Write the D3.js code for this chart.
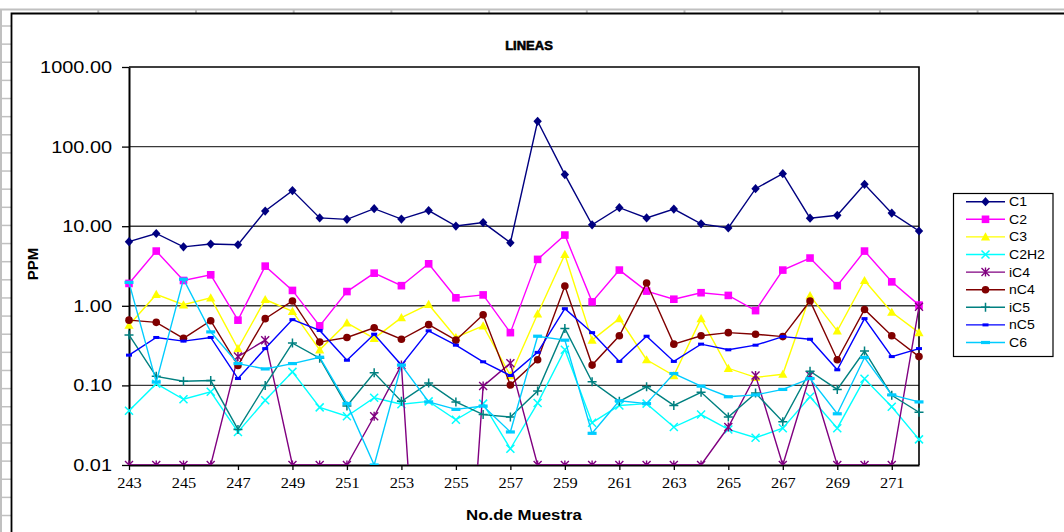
<!DOCTYPE html>
<html>
<head>
<meta charset="utf-8">
<script src="https://cdn.jsdelivr.net/npm/d3@7"></script>
<style>
  html, body { margin: 0; padding: 0; background: #fff; }
  svg { display: block; }
</style>
</head>
<body>
<svg id="chart" width="1064" height="532"></svg>
<script>
// ---------------- DATA ----------------
const categories = [243,244,245,246,247,248,249,250,251,252,253,254,255,256,257,258,259,260,261,262,263,264,265,266,267,268,269,270,271,272];
const xTickLabels = [243,245,247,249,251,253,255,257,259,261,263,265,267,269,271];
const yTickValues = [0.01, 0.1, 1, 10, 100, 1000];
const seriesNames = ["C1","C2","C3","C2H2","iC4","nC4","iC5","nC5","C6"];

const C1   = [6.4,8.1,5.5,5.97,5.85,15.5,28,12.7,12.2,16.6, 12.3,15.7,10.05,11.1,6.2,208,44.5,10.4,17.1,12.7, 16.4,10.7,9.5,29.6,45.7,12.6,13.7,33.6,14.6,8.7];
const C2   = [1.91,4.87,2.08,2.45,0.66,3.15,1.56,0.56,1.51,2.57, 1.79,3.37,1.26,1.37,0.46,3.83,7.74,1.12,2.81,1.53, 1.21,1.46,1.35,0.87,2.81,3.98,1.79,4.87,2.0,1.02];
const C3   = [0.57,1.39,1.03,1.26,0.29,1.2,0.85,0.28,0.61,0.39, 0.71,1.04,0.40,0.56,0.133,0.79,4.42,0.37,0.69,0.21, 0.133,0.69,0.164,0.126,0.138,1.34,0.485,2.08,0.83,0.46];
const C2H2 = [0.048,0.105,0.067,0.083,0.026,0.065,0.148,0.053,0.041,0.070, 0.058,0.063,0.037,0.059,0.016,0.060,0.28,0.034,0.056,0.059, 0.030,0.043,0.028,0.022,0.029,0.072,0.029,0.121,0.054,0.021];
const iC4  = [0.01,0.01,0.01,0.01,0.23,0.37,0.01,0.01,0.01,0.041, 0.18,0,0,0.098,0.19,0.01,0.01,0.01,0.01,0.01, 0.01,0.01,0.030,0.133,0.01,0.134,0.01,0.01,0.01,0.97];
const nC4  = [0.66,0.62,0.39,0.65,0.178,0.69,1.15,0.35,0.40,0.53, 0.38,0.58,0.37,0.77,0.101,0.21,1.77,0.18,0.42,1.93, 0.33,0.42,0.46,0.44,0.41,1.15,0.21,0.90,0.42,0.23];
const iC5  = [0.43,0.13,0.113,0.115,0.028,0.10,0.34,0.22,0.055,0.144, 0.063,0.107,0.062,0.043,0.040,0.085,0.52,0.111,0.063,0.096, 0.056,0.082,0.040,0.080,0.035,0.151,0.089,0.27,0.075,0.046];
const nC5  = [0.24,0.40,0.36,0.40,0.122,0.29,0.67,0.49,0.207,0.44, 0.18,0.485,0.32,0.198,0.133,0.26,0.92,0.46,0.20,0.415, 0.20,0.33,0.28,0.32,0.41,0.38,0.157,0.69,0.23,0.29];
const C6   = [1.97,0.11,2.16,0.47,0.188,0.161,0.188,0.226,0.059,0.01, 0.18,0.062,0.050,0.055,0.026,0.415,0.37,0.025,0.064,0.059, 0.141,0.098,0.072,0.076,0.089,0.122,0.044,0.224,0.076,0.062];

const seriesValues = [C1, C2, C3, C2H2, iC4, nC4, iC5, nC5, C6];

// ---------------- STYLE ----------------
const colors  = ["#000080","#FF00FF","#FFFF00","#00FFFF","#800080","#800000","#008080","#0000FF","#00CCFF"];
const markers = ["diamond","square","triangle","x","asterisk","circle","plus","dashS","dashL"];
const STRETCH = 1.17;

const svg = d3.select("#chart");

// ---------------- spreadsheet background ----------------
const bg = svg.append("g");
bg.append("line").attr("x1",0).attr("x2",1064).attr("y1",9.5).attr("y2",9.5).attr("stroke","#c0c0c0").attr("stroke-width",2);
bg.append("line").attr("x1",1).attr("x2",1).attr("y1",9).attr("y2",532).attr("stroke","#c0c0c0").attr("stroke-width",2);
d3.range(26, 532, 18.13).forEach(yy => {
  bg.append("line").attr("x1",1).attr("x2",11).attr("y1",yy).attr("y2",yy).attr("stroke","#c0c0c0").attr("stroke-width",1.5);
});
d3.range(98.3, 1064, 97.7).forEach(xx => {
  bg.append("line").attr("x1",xx).attr("x2",xx).attr("y1",9).attr("y2",13).attr("stroke","#c0c0c0").attr("stroke-width",2);
});
// chart area border
bg.append("path").attr("d","M11.5,532 L11.5,13.5 L1064,13.5").attr("fill","none").attr("stroke","#000").attr("stroke-width",1.8);

// ---------------- scales ----------------
const plot = {left:129, right:919, top:67, bottom:465};
const x = d3.scalePoint().domain(categories).range([plot.left, plot.right]);
const y = d3.scaleLog().domain([0.01, 1000]).range([plot.bottom, plot.top]);
const yv = v => y(Math.max(v, 1e-6));

function stretch(sel, k) {
  sel.each(function() {
    const len = this.getComputedTextLength();
    d3.select(this).attr("textLength", len * k).attr("lengthAdjust", "spacingAndGlyphs");
  });
}

// gridlines
svg.append("g").selectAll("line").data(yTickValues.slice(1, -1)).join("line")
  .attr("x1", plot.left).attr("x2", plot.right)
  .attr("y1", d => y(d)).attr("y2", d => y(d))
  .attr("stroke", "#3a3a3a").attr("stroke-width", 1.4);

// plot frame (top/right)
svg.append("path")
  .attr("d", `M${plot.left},${plot.top} L${plot.right},${plot.top} L${plot.right},${plot.bottom}`)
  .attr("fill","none").attr("stroke","#000").attr("stroke-width",1.6);

// y axis
const yAxis = svg.append("g").attr("transform", `translate(${plot.left},0)`)
  .call(d3.axisLeft(y).tickValues(yTickValues).tickFormat(d3.format(".2f")).tickSize(7).tickSizeOuter(0).tickPadding(10));
yAxis.select(".domain").attr("stroke","#000").attr("stroke-width",2);
yAxis.selectAll(".tick line").attr("stroke","#000").attr("stroke-width",1.3);
yAxis.selectAll("text").attr("font-family","Liberation Sans, Arial, sans-serif").attr("font-size",17).attr("fill","#000");
stretch(yAxis.selectAll("text"), STRETCH);

// x axis
const xAxis = svg.append("g").attr("transform", `translate(0,${plot.bottom})`)
  .call(d3.axisBottom(x).tickValues(xTickLabels).tickSize(5).tickSizeOuter(0).tickPadding(8));
xAxis.select(".domain").attr("stroke","#000").attr("stroke-width",2);
xAxis.selectAll(".tick line").attr("stroke","#000").attr("stroke-width",1.3);
xAxis.selectAll("text").attr("font-family","Liberation Serif, Times New Roman, serif").attr("font-size",14).attr("fill","#000");
stretch(xAxis.selectAll("text"), STRETCH);

// clip
svg.append("defs").append("clipPath").attr("id","plotclip").append("rect")
  .attr("x", plot.left - 6).attr("y", plot.top - 6)
  .attr("width", plot.right - plot.left + 12).attr("height", plot.bottom - plot.top + 6);

// marker drawing
function drawMarker(g, type, color) {
  switch (type) {
    case "diamond":
      g.append("path").attr("d","M0,-4.6 L4.2,0 L0,4.6 L-4.2,0Z").attr("fill",color); break;
    case "square":
      g.append("rect").attr("x",-3.8).attr("y",-3.8).attr("width",7.6).attr("height",7.6).attr("fill",color); break;
    case "triangle":
      g.append("path").attr("d","M0,-4.6 L4.6,3.6 L-4.6,3.6Z").attr("fill",color); break;
    case "circle":
      g.append("circle").attr("r",3.8).attr("fill",color); break;
    case "x":
      g.append("path").attr("d","M-4,-4 L4,4 M-4,4 L4,-4").attr("stroke",color).attr("stroke-width",1.5).attr("fill","none"); break;
    case "asterisk":
      g.append("path").attr("d","M-4,-4 L4,4 M-4,4 L4,-4 M0,-4.5 L0,4.5").attr("stroke",color).attr("stroke-width",1.4).attr("fill","none"); break;
    case "plus":
      g.append("path").attr("d","M-4.5,0 L4.5,0 M0,-4.5 L0,4.5").attr("stroke",color).attr("stroke-width",1.5).attr("fill","none"); break;
    case "dashS":
      g.append("rect").attr("x",-3).attr("y",-1.5).attr("width",6).attr("height",3).attr("fill",color); break;
    case "dashL":
      g.append("rect").attr("x",-4.5).attr("y",-1.6).attr("width",9).attr("height",3.2).attr("fill",color); break;
  }
}

// series
const line = d3.line().x(d => x(d.c)).y(d => yv(d.v));
const seriesG = svg.append("g").attr("clip-path","url(#plotclip)");
seriesValues.forEach((vals, i) => {
  const pts = categories.map((c, j) => ({c: c, v: vals[j]}));
  seriesG.append("path").datum(pts).attr("d", line)
    .attr("fill","none").attr("stroke", colors[i]).attr("stroke-width", 1.4);
  pts.filter(p => p.v > 0).forEach(p => {
    const g = seriesG.append("g").attr("transform", `translate(${x(p.c)},${y(p.v)})`);
    drawMarker(g, markers[i], colors[i]);
  });
});

// title
const title = svg.append("text").attr("x", 529).attr("y", 50).attr("text-anchor","middle")
  .attr("font-family","Liberation Sans, Arial, sans-serif").attr("font-weight","900").attr("font-size",13)
  .attr("stroke","#000").attr("stroke-width",0.6).text("LINEAS");

// y-axis title
svg.append("text").attr("transform","translate(38,264) rotate(-90)").attr("text-anchor","middle")
  .attr("font-family","Liberation Sans, Arial, sans-serif").attr("font-weight","bold").attr("font-size",15)
  .text("PPM");

// x-axis title
const xt = svg.append("text").attr("x", 524).attr("y", 520).attr("text-anchor","middle")
  .attr("font-family","Liberation Sans, Arial, sans-serif").attr("font-weight","bold").attr("font-size",15)
  .text("No.de Muestra");
stretch(xt, 1.12);

// legend
const lg = svg.append("g");
lg.append("rect").attr("x",953.5).attr("y",193.5).attr("width",99.5).attr("height",163)
  .attr("fill","#fff").attr("stroke","#000").attr("stroke-width",1.2);
seriesNames.forEach((name, i) => {
  const yy = 201.7 + i * 17.6;
  lg.append("line").attr("x1",966).attr("x2",1005).attr("y1",yy).attr("y2",yy).attr("stroke",colors[i]).attr("stroke-width",1.4);
  const g = lg.append("g").attr("transform",`translate(985.5,${yy})`);
  drawMarker(g, markers[i], colors[i]);
  const t = lg.append("text").attr("x",1009).attr("y",yy + 4.5)
    .attr("font-family","Liberation Sans, Arial, sans-serif").attr("font-size",12).text(name);
  stretch(t, STRETCH);
});
</script>
</body>
</html>
